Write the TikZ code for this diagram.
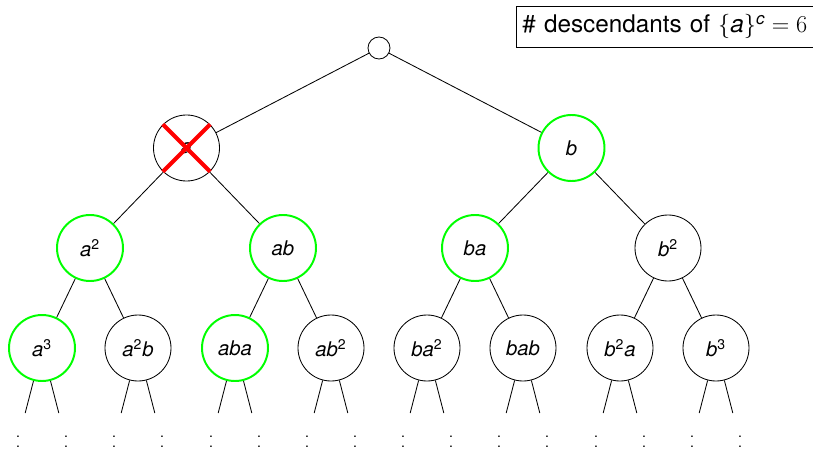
\documentclass[tikz,border=0pt]{standalone}
\usepackage{amsmath}
\usepackage{fontspec}
\setmainfont{TeX Gyre Heros}
\newcommand{\ia}{\textit{a}}
\newcommand{\ib}{\textit{b}}
\newcommand{\sq}[1]{\textsuperscript{#1}}
\newcommand{\vd}{\vbox{\baselineskip=7.6pt\lineskiplimit=0pt\hbox{.}\hbox{.}\hbox{.}}}

\tikzset{gr/.style={draw=green, line width=1.4pt},
         cr/.style={draw=red, line width=2.8pt},
         tip/.style={circle, minimum size=5.5mm, inner sep=0pt},
         dd/.style={draw=none, minimum size=0pt, inner sep=0pt, font=\normalsize}}

\begin{document}
\begin{tikzpicture}[level distance =24mm, line width=0.6pt]
\tikzstyle{level 1}=[sibling distance = 96.25mm, level distance=25mm]
\tikzstyle{level 2}=[sibling distance = 48.25mm]
\tikzstyle{level 3}=[sibling distance = 24mm]
\tikzstyle{level 4}=[sibling distance = 8.4mm, level distance=16.25mm]
\tikzstyle{every node}=[circle,draw,minimum size=16.5mm,inner sep=0pt,font=\Large]
\useasboundingbox (-9.475,-10.175) rectangle (10.85,1.2);
\node[tip] (r) {}
 child {node{\ia}
        child {node[gr]{\ia\sq{2}}
               child {node[gr]{\ia\sq{3}} child {coordinate} child {coordinate}}
               child {node{\ia\sq{2}\ib} child {coordinate} child {coordinate}}
              }
        child {node[gr]{\ia\ib}
               child {node[gr]{\ia\ib\ia} child {coordinate} child {coordinate}}
               child {node{\ia\ib\sq{2}} child {coordinate} child {coordinate}}
              }
       }
 child {node[gr]{\ib}
        child {node[gr]{\ib\ia}
               child {node{\ib\ia\sq{2}} child {coordinate} child {coordinate}}
               child {node{\ib\ia\ib} child {coordinate} child {coordinate}}
              }
        child {node{\ib\sq{2}}
               child {node{\ib\sq{2}\ia} child {coordinate} child {coordinate}}
               child {node{\ib\sq{3}} child {coordinate} child {coordinate}}
              }
       };
% the removed node
\draw[cr] (r-1.135) -- (r-1.315);
\draw[cr] (r-1.45) -- (r-1.225);
% what lies further down
\foreach \p in {1-1-1,1-1-2,1-2-1,1-2-2,2-1-1,2-1-2,2-2-1,2-2-2} {
  \node[dd] (dl-\p) at ([xshift=-6mm,yshift=-24.8mm]r-\p) {\vd};
  \node[dd] (dr-\p) at ([xshift=6mm,yshift=-24.8mm]r-\p) {\vd};
}
\node[rectangle, anchor=north west, minimum size=10.25mm, inner xsep=1.5mm,
      text width=74mm, align=left, font=\LARGE] (count) at (3.425,1.05)
  {\# descendants of $\{\textit{a}\}^{\textit{c}} = 6$};
\end{tikzpicture}
\end{document}
